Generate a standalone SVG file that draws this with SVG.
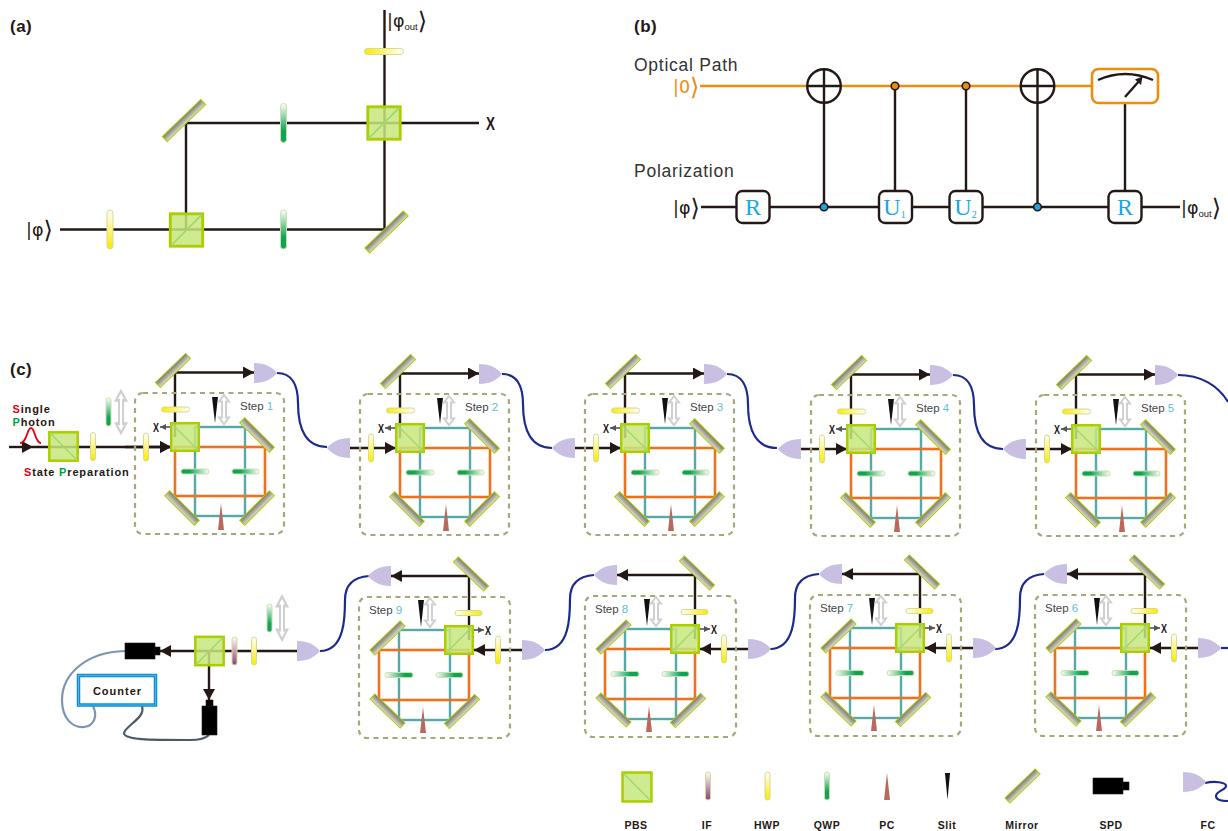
<svg xmlns="http://www.w3.org/2000/svg" width="1228" height="831" viewBox="0 0 1228 831">
<style>
text{font-family:"Liberation Sans",Arial,sans-serif;fill:#231815}
.panel{font-weight:700;font-size:17px;letter-spacing:.5px}
.lane{font-size:17.5px;letter-spacing:.75px;fill:#333}
.ket{font-family:"DejaVu Sans",sans-serif;font-size:17.5px}
.chev{font-size:24px}
.sub{font-family:"Liberation Sans",sans-serif;font-size:9.5px}
.gate{font-family:"Liberation Serif",serif;font-size:24px;fill:#1ba6e3;text-anchor:middle}
.gsub{font-size:10px}
.lab{font-weight:700;font-size:11px;letter-spacing:.85px}
.leg{font-weight:700;font-size:10.5px;letter-spacing:.5px;text-anchor:middle}
.red{fill:#e60012}.grn{fill:#00a040}
.step{font-size:11.5px;fill:#444}.stepn{fill:#5cc3cf}
.xbig{font-weight:700;font-size:19px}
.xsm{font-weight:700;font-size:12.5px}
.beam{fill:none;stroke:#231815;stroke-width:2.4}
.teal{fill:none;stroke:#55a9aa;stroke-width:2.4}
.org{fill:none;stroke:#ee7120;stroke-width:2.6}
.gx{fill:none;stroke:#555;stroke-width:1.6}
.fibre{fill:none;stroke:#1c2a8f;stroke-width:2.2}
.opt{fill:none;stroke:#f08c0a;stroke-width:2.4}
.box{fill:none;stroke:#a8a779;stroke-width:2.2;stroke-dasharray:5 4.5}
.gbox{fill:#fff;stroke:#231815;stroke-width:2.4}
.hv{fill:url(#gHv);stroke:#d6db8e;stroke-width:1}
.hl{fill:url(#gHl);stroke:#d6db8e;stroke-width:1}
.hr{fill:url(#gHr);stroke:#d6db8e;stroke-width:1}
.qv{fill:url(#gQv);stroke:#cfe0a0;stroke-width:1}
.ql{fill:url(#gQl);stroke:#cfe0a0;stroke-width:1}
.qr{fill:url(#gQr);stroke:#cfe0a0;stroke-width:1}
.if{fill:url(#gIf);stroke:#d6db8e;stroke-width:1}
.pc{fill:#b9695c}
.slit{fill:#111}
.fc{fill:#c9bfe3}
.dbl{fill:#fff;stroke:#d0d0d0;stroke-width:2}
.spd{fill:#000;stroke:#231815;stroke-width:.6}
</style>
<defs>
<linearGradient id="gHv" x1="0" y1="0" x2="0" y2="1"><stop offset="0" stop-color="#fff"/><stop offset="1" stop-color="#fbe900"/></linearGradient>
<linearGradient id="gHl" x1="0" y1="0" x2="1" y2="0"><stop offset="0" stop-color="#fbe900"/><stop offset="1" stop-color="#fff"/></linearGradient>
<linearGradient id="gHr" x1="0" y1="0" x2="1" y2="0"><stop offset="0" stop-color="#fff"/><stop offset="1" stop-color="#fbe900"/></linearGradient>
<linearGradient id="gQv" x1="0" y1="0" x2="0" y2="1"><stop offset="0" stop-color="#fff"/><stop offset=".7" stop-color="#0ea35a"/><stop offset="1" stop-color="#0ea35a"/></linearGradient>
<linearGradient id="gQl" x1="0" y1="0" x2="1" y2="0"><stop offset="0" stop-color="#0ea35a"/><stop offset=".3" stop-color="#0ea35a"/><stop offset="1" stop-color="#fff"/></linearGradient>
<linearGradient id="gQr" x1="0" y1="0" x2="1" y2="0"><stop offset="0" stop-color="#fff"/><stop offset=".7" stop-color="#0ea35a"/><stop offset="1" stop-color="#0ea35a"/></linearGradient>
<linearGradient id="gIf" x1="0" y1="0" x2="0" y2="1"><stop offset="0" stop-color="#fff"/><stop offset="1" stop-color="#8a3f78"/></linearGradient>
<linearGradient id="gM" x1="0" y1="0" x2="0" y2="1"><stop offset="0" stop-color="#7d776c"/><stop offset="1" stop-color="#e2ded6"/></linearGradient>
<marker id="ah" markerUnits="userSpaceOnUse" markerWidth="11" markerHeight="12" refX="11" refY="6" orient="auto"><path d="M0 0L11 6L0 12Z" fill="#231815"/></marker>
<marker id="ahg" markerUnits="userSpaceOnUse" markerWidth="6" markerHeight="6" refX="6" refY="3" orient="auto"><path d="M0 0L6 3L0 6Z" fill="#555"/></marker>
<g id="pbsA"><rect x="-13.500" y="-13.500" width="27" height="27" fill="#c8e67e" fill-opacity=".85" stroke="#a9cf00" stroke-width="2.400"/><path d="M-13 13L13 -13" stroke="#a3d86a" stroke-width="1.400"/></g>
<g id="pbsB"><rect x="-13.500" y="-13.500" width="27" height="27" fill="#c8e67e" fill-opacity=".85" stroke="#a9cf00" stroke-width="2.400"/><path d="M-13 -13L13 13" stroke="#a3d86a" stroke-width="1.400"/></g>
<rect id="mirror" x="-21" y="-3.500" width="42" height="7" fill="url(#gM)" stroke="#a9cf00" stroke-width="1"/>
<path id="fc" class="fc" d="M0 -10C11 -10 18 -6 23 0C18 6 11 10 0 10Z"/>
<path id="dbl" class="dbl" d="M0 -14.500L5 -8L2 -8L2 8L5 8L0 14.500L-5 8L-2 8L-2 -8L-5 -8Z"/>
<path id="fibreTop" class="fibre" d="M0 0C15 0 21 12 21 30C21 58 30 74 50 74"/>
<path id="fibreBot" class="fibre" d="M0 0C-15 1 -24 8 -24 24C-24 40 -24 75 -49 75"/>
<g id="beamsTop">
<rect class="teal" x="195" y="427" width="50" height="89"/>
<rect class="org" x="175" y="447" width="90" height="49"/>
<path class="beam" d="M175 437V372.500H254" marker-end="url(#ah)"/>
<path class="gx" d="M171 427H160" marker-end="url(#ahg)"/>
<path class="beam" d="M125 447H171" marker-end="url(#ah)"/>
</g>
<g id="beamsBot">
<rect class="teal" x="1075" y="628" width="51" height="90"/>
<rect class="org" x="1055" y="648" width="90" height="50"/>
<path class="beam" d="M1145 638V574H1067" marker-end="url(#ah)"/>
<path class="gx" d="M1145 628H1160" marker-end="url(#ahg)"/>
<path class="beam" d="M1198 648H1150" marker-end="url(#ah)"/>
</g>
<g id="stepTop">
<rect class="box" x="135" y="393" width="149" height="141" rx="8"/>
<use href="#pbsB" transform="translate(185,437) scale(1.02)"/>
<use href="#mirror" transform="translate(173,370.500) rotate(-44)"/>
<use href="#mirror" transform="translate(257,435) rotate(45)"/>
<use href="#mirror" transform="translate(182,508) rotate(45)"/>
<use href="#mirror" transform="translate(257,508) rotate(-45)"/>
<use href="#fc" transform="translate(254,373)"/>
<rect class="hl" x="161.500" y="407" width="28" height="5" rx="2.500"/>
<rect class="hv" x="143.500" y="433" width="5" height="28" rx="2.500"/>
<rect class="ql" x="181" y="469" width="28" height="5" rx="2.500"/>
<rect class="ql" x="232" y="469" width="27" height="5" rx="2.500"/>
<path class="slit" d="M212 397H218L215 423Z"/>
<use href="#dbl" transform="translate(224,409.500)"/>
<path class="pc" d="M221 503L224 530H218Z"/>
<text class="xsm" x="153" y="431.500" textLength="6" lengthAdjust="spacingAndGlyphs">X</text>
</g>
<g id="stepBot">
<rect class="box" x="1035" y="595" width="151" height="141" rx="8"/>
<use href="#pbsA" transform="translate(1135,638) scale(1.02)"/>
<use href="#mirror" transform="translate(1147,572) rotate(44)"/>
<use href="#mirror" transform="translate(1063.500,636) rotate(-44)"/>
<use href="#mirror" transform="translate(1063.500,709) rotate(44)"/>
<use href="#mirror" transform="translate(1138,709.500) rotate(-44)"/>
<use href="#fc" transform="translate(1067,574) scale(-1,1)"/>
<rect class="hr" x="1131" y="608.500" width="27" height="5" rx="2.500"/>
<rect class="hv" x="1171.500" y="634" width="5" height="28" rx="2.500"/>
<rect class="qr" x="1061" y="670.500" width="28" height="5" rx="2.500"/>
<rect class="qr" x="1112" y="670.500" width="27" height="5" rx="2.500"/>
<path class="slit" d="M1094 598H1100L1097 625Z"/>
<use href="#dbl" transform="translate(1106,610.500)"/>
<path class="pc" d="M1099 705L1102 731H1096Z"/>
<text class="xsm" x="1161" y="632.500" textLength="6" lengthAdjust="spacingAndGlyphs">X</text>
<use href="#fc" transform="translate(1198,648)"/>
</g>
</defs>

<rect width="1228" height="831" fill="#fff"/>

<g id="connectors">
<path class="beam" d="M60 229.500H384.500V10"/>
<path class="beam" d="M186 229.500V123H479"/>
<path class="opt" d="M700 86H1092"/>
<path class="beam" d="M701 207H1180"/>
<path class="beam" d="M824 86V207M895 86V191M966 86V191M1037.500 86V207M1125 103V191"/>
<path class="beam" d="M9 447H33" marker-end="url(#ah)"/>
<path class="beam" d="M33 447H171" marker-end="url(#ah)"/>
<use href="#beamsTop"/>
<use href="#beamsTop" transform="translate(225,1)"/>
<use href="#beamsTop" transform="translate(450,1)"/>
<use href="#beamsTop" transform="translate(676,2)"/>
<use href="#beamsTop" transform="translate(901,2)"/>
<use href="#fibreTop" transform="translate(277,373)"/>
<use href="#fibreTop" transform="translate(502,374)"/>
<use href="#fibreTop" transform="translate(727,374)"/>
<use href="#fibreTop" transform="translate(953,375)"/>
<path class="fibre" d="M1178 375C1200 375 1218 385 1228 402"/>
<path class="fibre" d="M1221 648H1228"/>
<use href="#beamsBot"/>
<use href="#beamsBot" transform="translate(-225,0)"/>
<use href="#beamsBot" transform="translate(-450,1)"/>
<use href="#beamsBot" transform="translate(-676,2)"/>
<use href="#fibreBot" transform="translate(1044,574)"/>
<use href="#fibreBot" transform="translate(819,574)"/>
<use href="#fibreBot" transform="translate(594,575)"/>
<use href="#fibreBot" transform="translate(369,576)"/>
<path class="beam" d="M297 651H160" marker-end="url(#ah)"/>
<path class="beam" d="M209 651V700" marker-end="url(#ah)"/>
<path fill="none" stroke="#7b94b3" stroke-width="2.200" d="M125 651C85 652 62 675 62 700C62 718 72 728 84 727C94 726 98 716 93 706"/>
<path fill="none" stroke="#4a5a68" stroke-width="2.200" d="M142 706C146 718 126 725 124 733C124 740 150 740 190 740C200 740 206 738 209 735"/>
<path class="fibre" d="M1205 783C1214 781 1226 782 1226 786C1226 790 1216 791 1216 796C1216 800 1222 801 1228 801"/>
</g>

<g id="panel-a">
<text class="panel" x="10" y="32">(a)</text>
<text class="ket" x="26" y="236">|φ<tspan class="chev" dy="2">⟩</tspan></text>
<text class="ket" x="387" y="27">|φ<tspan class="sub" dy="3">out</tspan><tspan class="chev" dy="-1">⟩</tspan></text>
<text class="xbig" x="486" y="130" textLength="9" lengthAdjust="spacingAndGlyphs">X</text>
<g id="a-pbs1"><use href="#pbsA" transform="translate(186.500,230) scale(1.2)"/></g>
<g id="a-pbs2"><use href="#pbsA" transform="translate(384,123) scale(1.2)"/></g>
<g id="a-mirror1"><use href="#mirror" transform="translate(184,120.500) rotate(-44) scale(1.27,1)"/></g>
<g id="a-mirror2"><use href="#mirror" transform="translate(386.500,232) rotate(-44) scale(1.27,1)"/></g>
<g id="a-hwp1"><rect class="hv" x="107" y="210" width="6" height="39" rx="3"/></g>
<g id="a-qwp1"><rect class="qv" x="280.500" y="210" width="6" height="39" rx="3"/></g>
<g id="a-qwp2"><rect class="qv" x="280.500" y="103.500" width="6" height="39" rx="3"/></g>
<g id="a-hwp2"><rect class="hl" x="364.500" y="48.500" width="39" height="6" rx="3"/></g>
</g>

<g id="panel-b">
<text class="panel" x="634" y="32">(b)</text>
<text class="lane" x="634" y="70.500">Optical Path</text>
<text class="lane" x="634" y="176.500">Polarization</text>
<text class="ket" x="673" y="92.500" style="fill:#f08c0a">|0<tspan class="chev" dy="2" style="fill:#f08c0a">⟩</tspan></text>
<text class="ket" x="673" y="213.500">|φ<tspan class="chev" dy="2">⟩</tspan></text>
<text class="ket" x="1181" y="213.500">|φ<tspan class="sub" dy="3">out</tspan><tspan class="chev" dy="-1">⟩</tspan></text>
<g id="b-xor1"><circle class="gbox" cx="824" cy="86" r="16.800"/><path class="beam" d="M807 86H841M824 69V103"/></g>
<g id="b-xor2"><circle class="gbox" cx="1037.500" cy="86" r="16.800"/><path class="beam" d="M1021 86H1054M1037.500 69V103"/></g>
<g id="b-ctrl"><circle cx="824" cy="207" r="3.800" fill="#1ba6e3" stroke="#231815" stroke-width="1.600"/><circle cx="1037.500" cy="207" r="3.800" fill="#1ba6e3" stroke="#231815" stroke-width="1.600"/><circle cx="895" cy="86" r="3.800" fill="#f08c0a" stroke="#231815" stroke-width="1.600"/><circle cx="966" cy="86" r="3.800" fill="#f08c0a" stroke="#231815" stroke-width="1.600"/></g>
<g id="b-r1"><rect class="gbox" x="736.500" y="191" width="33" height="32" rx="6"/><text class="gate" x="753" y="215">R</text></g>
<g id="b-u1"><rect class="gbox" x="879" y="191" width="33" height="32" rx="6"/><text class="gate" x="894.500" y="215">U<tspan class="gsub" dy="3">1</tspan></text></g>
<g id="b-u2"><rect class="gbox" x="949.500" y="191" width="33" height="32" rx="6"/><text class="gate" x="965.500" y="215">U<tspan class="gsub" dy="3">2</tspan></text></g>
<g id="b-r2"><rect class="gbox" x="1108.500" y="191" width="33" height="32" rx="6"/><text class="gate" x="1125" y="215">R</text></g>
<g id="b-meter"><rect x="1092" y="69" width="66" height="34" rx="6.500" fill="#fff" stroke="#f08c0a" stroke-width="2.600"/><path class="beam" d="M1098 80Q1125 68 1153 80"/><path class="beam" d="M1125 97L1140 80"/><path d="M1142.500 76.500L1141 85L1135 79.500Z" fill="#231815"/></g>
</g>

<g id="panel-c">
<text class="panel" x="10" y="375">(c)</text>
<text class="lab" x="12.500" y="413"><tspan class="red">S</tspan>ingle</text>
<text class="lab" x="12.500" y="426"><tspan class="grn">P</tspan>hoton</text>
<text class="lab" x="24" y="475.500"><tspan class="red">S</tspan>tate <tspan class="grn">P</tspan>reparation</text>
<path id="pulse" d="M20 443C27 443 27 428 31 428C35 428 35 443 41 443" fill="none" stroke="#e60012" stroke-width="1.800"/>
<g id="prep-pbs"><use href="#pbsB" transform="translate(63.500,446.500) scale(1.05)"/></g>
<g id="prep-hwp"><rect class="hv" x="90.500" y="432.500" width="5" height="28" rx="2.500"/></g>
<g id="prep-qwp"><rect class="qv" x="106" y="398" width="5" height="28" rx="2.500"/></g>
<use id="prep-slide" href="#dbl" transform="translate(121,412) scale(1,1.45)"/>
<g id="step-1"><use href="#stepTop"/><text class="step" x="240" y="410">Step <tspan class="stepn">1</tspan></text></g>
<g id="step-2" transform="translate(225,1)"><use href="#stepTop"/><use href="#fc" transform="translate(125,447) scale(-1,1)"/><text class="step" x="240" y="410">Step <tspan class="stepn">2</tspan></text></g>
<g id="step-3" transform="translate(450,1)"><use href="#stepTop"/><use href="#fc" transform="translate(125,447) scale(-1,1)"/><text class="step" x="240" y="410">Step <tspan class="stepn">3</tspan></text></g>
<g id="step-4" transform="translate(676,2)"><use href="#stepTop"/><use href="#fc" transform="translate(125,447) scale(-1,1)"/><text class="step" x="240" y="410">Step <tspan class="stepn">4</tspan></text></g>
<g id="step-5" transform="translate(901,2)"><use href="#stepTop"/><use href="#fc" transform="translate(125,447) scale(-1,1)"/><text class="step" x="240" y="410">Step <tspan class="stepn">5</tspan></text></g>
<g id="step-6"><use href="#stepBot"/><text class="step" x="1045" y="612">Step <tspan class="stepn">6</tspan></text></g>
<g id="step-7" transform="translate(-225,0)"><use href="#stepBot"/><text class="step" x="1045" y="612">Step <tspan class="stepn">7</tspan></text></g>
<g id="step-8" transform="translate(-450,1)"><use href="#stepBot"/><text class="step" x="1045" y="612">Step <tspan class="stepn">8</tspan></text></g>
<g id="step-9" transform="translate(-676,2)"><use href="#stepBot"/><text class="step" x="1045" y="612">Step <tspan class="stepn">9</tspan></text></g>
<g id="final-fc"><use href="#fc" transform="translate(297,651)"/></g>
<g id="final-pbs"><use href="#pbsA" transform="translate(209.500,651) scale(1.05)"/></g>
<g id="final-if"><rect class="if" x="232" y="637" width="5" height="28" rx="2.500"/></g>
<g id="final-hwp"><rect class="hv" x="251.500" y="637" width="5" height="28" rx="2.500"/></g>
<g id="final-qwp"><rect class="qv" x="267" y="604" width="5" height="28" rx="2.500"/></g>
<use id="final-slide" href="#dbl" transform="translate(282,618) scale(1,1.5)"/>
<g id="spd-h"><rect class="spd" x="125" y="643" width="30" height="16"/><rect class="spd" x="155" y="647" width="5" height="8"/></g>
<g id="spd-v"><rect class="spd" x="202" y="706" width="15" height="29"/><rect class="spd" x="206" y="700" width="7" height="6"/></g>
<g id="counter"><rect x="78.500" y="675.500" width="77" height="29.500" fill="#fff" stroke="#0a8fd8" stroke-width="3.500"/><rect x="78.500" y="675.500" width="77" height="29.500" fill="none" stroke="#6cc0ee" stroke-width=".7"/><text x="117.500" y="695" text-anchor="middle" style="font-weight:700;font-size:11px;letter-spacing:1px">Counter</text></g>
</g>

<g id="legend">
<g id="leg-pbs"><use href="#pbsB" transform="translate(637,787) scale(1.07)"/><text class="leg" x="636" y="829">PBS</text></g>
<g id="leg-if"><rect class="if" x="705.500" y="772" width="5" height="28" rx="2.500"/><text class="leg" x="707" y="829">IF</text></g>
<g id="leg-hwp"><rect class="hv" x="765" y="772" width="5" height="28" rx="2.500"/><text class="leg" x="767" y="829">HWP</text></g>
<g id="leg-qwp"><rect class="qv" x="824.500" y="772" width="5" height="28" rx="2.500"/><text class="leg" x="827" y="829">QWP</text></g>
<g id="leg-pc"><path class="pc" d="M887 773L890 800H884Z"/><text class="leg" x="887" y="829">PC</text></g>
<g id="leg-slit"><path class="slit" d="M945 773H950L947.500 800Z"/><text class="leg" x="947" y="829">Slit</text></g>
<g id="leg-mirror"><use href="#mirror" transform="translate(1022.500,786) rotate(-44)"/><text class="leg" x="1022" y="829">Mirror</text></g>
<g id="leg-spd"><rect class="spd" x="1093" y="778" width="30" height="16"/><rect class="spd" x="1123" y="782" width="6" height="8"/><text class="leg" x="1111" y="829">SPD</text></g>
<g id="leg-fc"><use href="#fc" transform="translate(1183,782)"/><text class="leg" x="1208" y="829">FC</text></g>
</g>
</svg>
